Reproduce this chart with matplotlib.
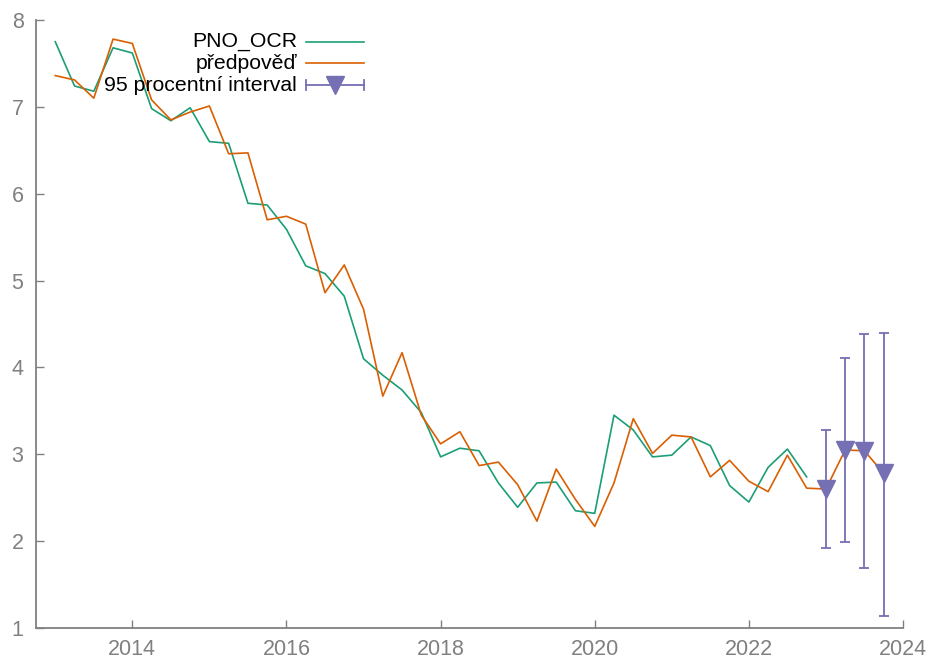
import matplotlib
matplotlib.use("Agg")
import matplotlib.pyplot as plt
import numpy as np

# quarterly data 2013Q1 - 2022Q4
pno_ocr = [7.75, 7.24, 7.18, 7.68, 7.62, 6.98, 6.84, 6.99,
           6.60, 6.58, 5.89, 5.87, 5.59, 5.17, 5.08, 4.82,
           4.10, 3.91, 3.74, 3.48, 2.97, 3.07, 3.04, 2.67,
           2.39, 2.67, 2.68, 2.35, 2.32, 3.45, 3.28, 2.97,
           2.99, 3.20, 3.10, 2.64, 2.45, 2.85, 3.06, 2.74]

# forecast 2013Q1 - 2023Q4
predpoved = [7.36, 7.31, 7.10, 7.78, 7.73, 7.08, 6.85, 6.94,
             7.01, 6.46, 6.47, 5.70, 5.74, 5.65, 4.86, 5.18,
             4.67, 3.67, 4.17, 3.45, 3.12, 3.26, 2.87, 2.91,
             2.65, 2.23, 2.83, 2.48, 2.17, 2.67, 3.41, 3.01,
             3.22, 3.20, 2.74, 2.93, 2.69, 2.57, 2.99, 2.61,
             2.60, 3.05, 3.04, 2.78]

# 95% interval for 2023Q1 - 2023Q4
ci_low = [1.92, 1.99, 1.69, 1.14]
ci_high = [3.28, 4.11, 4.38, 4.40]

green = "#1b9e77"
orange = "#d95f02"
purple = "#7570b3"
gray = "#808080"

t_obs = 2013 + 0.25 * np.arange(len(pno_ocr))
t_fc = 2013 + 0.25 * np.arange(len(predpoved))
t_ci = t_fc[-len(ci_low):]
fc_ci = np.array(predpoved[-len(ci_low):])

fig = plt.figure(figsize=(9.3, 6.59), dpi=100)
ax = fig.add_axes([36/930, 31/659, 867/930, 608/659])

ax.plot(t_obs, pno_ocr, color=green, lw=1.2)
ax.plot(t_fc, predpoved, color=orange, lw=1.2)
ax.errorbar(t_ci, fc_ci, yerr=[fc_ci - np.array(ci_low), np.array(ci_high) - fc_ci],
            fmt="v", color=purple, ms=13, elinewidth=1.3, capsize=3.5, capthick=1.3)

ax.set_xlim(2012.75, 2024)
ax.set_ylim(1, 8)
ax.set_xticks(range(2014, 2025, 2))
ax.set_yticks(range(1, 9))

for s in ["top", "right"]:
    ax.spines[s].set_visible(False)
for s in ["left", "bottom"]:
    ax.spines[s].set_color(gray)
    ax.spines[s].set_linewidth(1.3)
ax.tick_params(direction="in", length=6, width=1, color=gray, labelcolor=gray,
               labelsize=15.5, pad=9)
ax.tick_params(axis="x", pad=8)
for lab in ax.get_xticklabels() + ax.get_yticklabels():
    lab.set_family("Liberation Sans")

# legend, gnuplot style (text on the left, key on the right)
rows = [0.964, 0.929, 0.893]
labels = ["PNO_OCR", "předpověď", "95 procentní interval"]
x_txt, x0, x1 = 0.301, 0.3115, 0.3785
for yy, lab in zip(rows, labels):
    ax.text(x_txt, yy, lab, transform=ax.transAxes, ha="right", va="center",
            fontsize=15.3, family="Liberation Sans", color="black")
ax.plot([x0, x1], [rows[0]] * 2, color=green, lw=1.2, transform=ax.transAxes, clip_on=False)
ax.plot([x0, x1], [rows[1]] * 2, color=orange, lw=1.2, transform=ax.transAxes, clip_on=False)
ax.plot([x0, x1], [rows[2]] * 2, color=purple, lw=1.3, transform=ax.transAxes, clip_on=False)
ax.plot([x0, x0], [rows[2] - 0.008, rows[2] + 0.008], color=purple, lw=1.3,
        transform=ax.transAxes, clip_on=False)
ax.plot([x1, x1], [rows[2] - 0.008, rows[2] + 0.008], color=purple, lw=1.3,
        transform=ax.transAxes, clip_on=False)
ax.plot([(x0 + x1) / 2], [rows[2]], "v", color=purple, ms=13,
        transform=ax.transAxes, clip_on=False)

fig.savefig("out.png", dpi=100)
